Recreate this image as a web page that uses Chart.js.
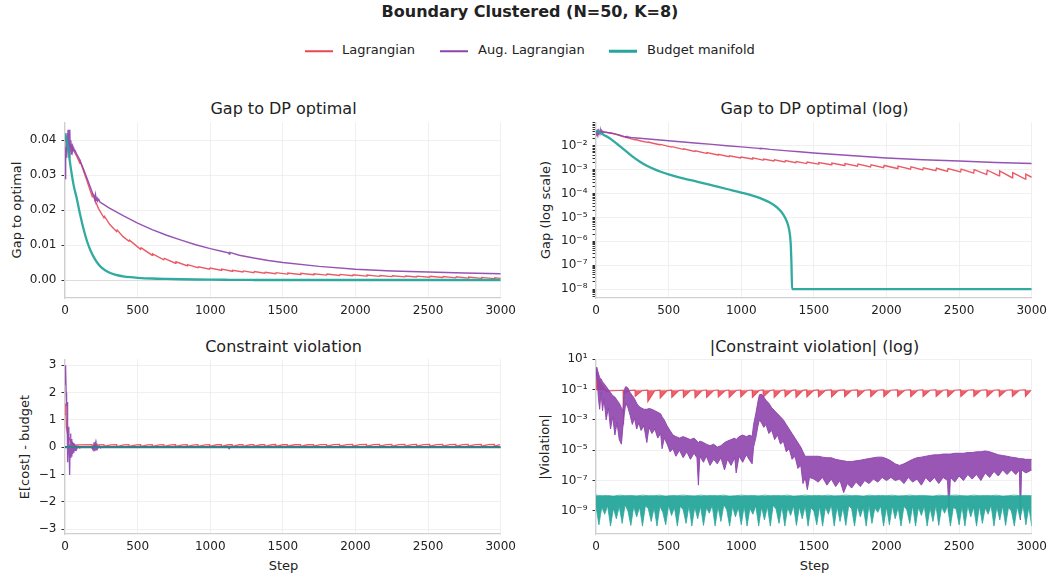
<!DOCTYPE html>
<html>
<head>
<meta charset="utf-8">
<script src="https://cdn.jsdelivr.net/npm/chart.js@4.4.1/dist/chart.umd.min.js"></script>
<style>
  body { margin: 0; background: #fff; font-family: 'DejaVu Sans', sans-serif; color: #222; }
  #fig { position: relative; width: 1052px; height: 577px; overflow: hidden; background: #fff; }
  .txt { position: absolute; white-space: nowrap; transform: translate(-50%, -50%); line-height: 1.2; }
  .rot { transform: translate(-50%, -50%) rotate(-90deg); }
  .leg { position: absolute; white-space: nowrap; transform: translateY(-50%); font-size: 13px; line-height: 1.2; }
  .sw { position: absolute; width: 28px; transform: translateY(-50%); }
  canvas { position: absolute; }
</style>
</head>
<body>
<div id="fig">
  <div class="txt" style="left:530px; top:12px; font-size:16px; font-weight:bold;">Boundary Clustered (N=50, K=8)</div>

  <div class="sw" style="left:305px; top:51px; height:1.5px; background:rgb(232,72,85);"></div>
  <div class="leg" style="left:342px; top:50px;">Lagrangian</div>
  <div class="sw" style="left:440px; top:51px; height:1.5px; background:rgb(142,68,173);"></div>
  <div class="leg" style="left:478px; top:50px;">Aug. Lagrangian</div>
  <div class="sw" style="left:609px; top:51px; height:2.5px; background:rgb(38,166,154);"></div>
  <div class="leg" style="left:647px; top:50px;">Budget manifold</div>

  <div class="txt" style="left:283.5px; top:109px; font-size:16px;">Gap to DP optimal</div>
  <div class="txt" style="left:814.5px; top:109px; font-size:16px;">Gap to DP optimal (log)</div>
  <div class="txt" style="left:283.5px; top:346.5px; font-size:16px;">Constraint violation</div>
  <div class="txt" style="left:814.5px; top:346.5px; font-size:16px;">|Constraint violation| (log)</div>

  <div class="txt rot" style="left:16.5px; top:210px; font-size:13px;">Gap to optimal</div>
  <div class="txt rot" style="left:546px; top:210px; font-size:13px;">Gap (log scale)</div>
  <div class="txt rot" style="left:25px; top:447px; font-size:13px;">E[cost] - budget</div>
  <div class="txt rot" style="left:545px; top:447px; font-size:13px;">|Violation|</div>

  <div class="txt" style="left:283.5px; top:566px; font-size:13px;">Step</div>
  <div class="txt" style="left:814.5px; top:566px; font-size:13px;">Step</div>

  <canvas id="gapLin" width="522" height="212" style="left:0px; top:110px;"></canvas>
  <canvas id="gapLog" width="522" height="212" style="left:531px; top:110px;"></canvas>
  <canvas id="violLin" width="522" height="211" style="left:0px; top:347px;"></canvas>
  <canvas id="violLog" width="522" height="211" style="left:531px; top:347px;"></canvas>
</div>
<script>
// x axis ticks (steps)
const stepTicks = [0, 500, 1000, 1500, 2000, 2500, 3000];

// y tick values and labels
const gapLinTicks = [0, 0.01, 0.02, 0.03, 0.04];
const gapLinLabels = ['0.00', '0.01', '0.02', '0.03', '0.04'];
const gapLogTicks = [1e-8, 1e-7, 1e-6, 1e-5, 1e-4, 1e-3, 1e-2];
const gapLogLabels = ['10⁻⁸', '10⁻⁷', '10⁻⁶', '10⁻⁵', '10⁻⁴', '10⁻³', '10⁻²'];
const minorMult = [2, 3, 4, 5, 6, 7, 8, 9];
const violLinTicks = [-3, -2, -1, 0, 1, 2, 3];
const violLinLabels = ['−3', '−2', '−1', '0', '1', '2', '3'];
const violLogTicks = [1e-9, 1e-7, 1e-5, 1e-3, 1e-1, 10];
const violLogLabels = ['10⁻⁹', '10⁻⁷', '10⁻⁵', '10⁻³', '10⁻¹', '10¹'];

// Gap to DP optimal - Lagrangian (sawtooth after each re-solve)
const gapLagSteps = [0, 20, 40, 60, 80, 100, 104, 150, 188, 192, 230, 268, 272, 310, 355, 359, 400, 440, 444,
  520, 524, 600, 604, 680, 684, 760, 764, 840, 844, 915, 919, 995, 999, 1075, 1079, 1150, 1154,
  1225, 1229, 1300, 1304, 1375, 1379, 1450, 1454, 1530, 1534, 1620, 1624, 1710, 1714, 1800, 1804,
  1890, 1894, 1980, 1984, 2075, 2079, 2165, 2169, 2250, 2254, 2340, 2344, 2420, 2424, 2510, 2514,
  2600, 2604, 2690, 2694, 2775, 2779, 2865, 2869, 2955, 2959, 3000];
const gapLag = [0.040, 0.0393, 0.0383, 0.037, 0.0355, 0.0336, 0.034, 0.0285, 0.0238, 0.0243, 0.0205, 0.0178, 0.0182, 0.0158, 0.0139, 0.0143, 0.0124, 0.0111, 0.0114,
  0.0088, 0.0092, 0.0071, 0.0075, 0.0058, 0.0062, 0.0048, 0.0052, 0.0041, 0.0044, 0.0035, 0.0038, 0.0031, 0.0034, 0.0028, 0.0031, 0.0025, 0.0028,
  0.0023, 0.0026, 0.0021, 0.0024, 0.00195, 0.0022, 0.0018, 0.0021, 0.0017, 0.002, 0.0016, 0.0019, 0.0015, 0.0018, 0.0014, 0.0017,
  0.0013, 0.0016, 0.00122, 0.0015, 0.00112, 0.0014, 0.00104, 0.0013, 0.00097, 0.0012, 0.0009, 0.00115, 0.00085, 0.0011, 0.0008, 0.00105,
  0.00072, 0.001, 0.00062, 0.00095, 0.00055, 0.00088, 0.00046, 0.00075, 0.0004, 0.00065, 0.00048];

// Gap - Aug. Lagrangian
const gapAugSteps = [0, 3, 6, 9, 12, 15, 18, 21, 24, 27, 30, 33, 36, 40, 44, 48, 52, 56, 60, 70,
  80, 100, 130, 160, 190, 200, 205, 210, 215, 220, 225, 232, 240, 260, 300, 400, 500, 600, 700, 800,
  900, 1000, 1100, 1125, 1130, 1135, 1200, 1300, 1400, 1500, 1750, 2000, 2250, 2500, 2750, 3000];
const gapAug = [0.029, 0.038, 0.034, 0.041, 0.035, 0.042, 0.037, 0.043, 0.036, 0.041, 0.035, 0.043, 0.037, 0.040, 0.036, 0.039, 0.037, 0.038, 0.0375, 0.037,
  0.036, 0.0345, 0.0315, 0.0282, 0.0248, 0.0242, 0.0232, 0.0244, 0.0228, 0.0238, 0.0226, 0.0231, 0.0223, 0.0218, 0.0207, 0.0184, 0.0163, 0.0144, 0.0128, 0.0114,
  0.0101, 0.009, 0.008, 0.0078, 0.0074, 0.0079, 0.0071, 0.0063, 0.0056, 0.005, 0.0039, 0.0031, 0.0026, 0.0023, 0.002, 0.0018];

// Gap - Budget manifold
const gapBudSteps = [0, 20, 40, 60, 80, 100, 125, 150, 175, 200, 225, 250, 300, 350, 400, 450, 500, 600, 700, 800,
  900, 1000, 1100, 1150, 1200, 1250, 1290, 1315, 1330, 1340, 1346, 1350, 3000];
const gapBud = [0.042, 0.038, 0.032, 0.027, 0.0235, 0.0195, 0.015, 0.0113, 0.0085, 0.0064, 0.0048, 0.0036, 0.0022, 0.00145, 0.00105, 0.0008, 0.00064, 0.00043, 0.00031, 0.00022,
  0.000155, 0.00011, 0.000074, 0.000057, 0.000041, 0.000025, 0.000013, 0.0000065, 0.000003, 0.0000009, 0.0000001, 1e-8, 1e-8];

// Constraint violation - Lagrangian (E[cost] - budget, positive)
const violLagSteps = [0, 5, 10, 15, 25, 40, 55, 70, 85,
  186, 188, 192, 230,
  268, 270, 318,   355, 357, 405,   440, 442, 490,   520, 522, 570,   600, 602, 650,
  680, 682, 730,   760, 762, 810,   840, 842, 890,   915, 917, 965,   995, 997, 1045,
  1075, 1077, 1125, 1150, 1152, 1200, 1225, 1227, 1275, 1300, 1302, 1350, 1375, 1377, 1425,
  1450, 1452, 1500, 1530, 1532, 1580, 1620, 1622, 1670, 1710, 1712, 1760, 1800, 1802, 1850,
  1890, 1892, 1940, 1980, 1982, 2030, 2075, 2077, 2125, 2165, 2167, 2215, 2250, 2252, 2300,
  2340, 2342, 2390, 2420, 2422, 2470, 2510, 2512, 2560, 2600, 2602, 2650, 2690, 2692, 2740,
  2775, 2777, 2825, 2865, 2867, 2915, 2955, 2957, 2995,
  3000];
const violLag = [1.2, 1.6, 0.7, 0.55, 0.35, 0.2, 0.12, 0.075, 0.08,
  0.09, 0.0005, 0.05, 0.085,
  0.092, 0.035, 0.085,   0.092, 0.016, 0.084,   0.092, 0.027, 0.085,   0.092, 0.03, 0.085,   0.093, 0.03, 0.086,
  0.093, 0.028, 0.086,   0.093, 0.03, 0.086,    0.093, 0.032, 0.086,   0.093, 0.03, 0.086,   0.093, 0.032, 0.087,
  0.093, 0.03, 0.087,    0.094, 0.032, 0.087,   0.094, 0.03, 0.087,    0.094, 0.033, 0.088,  0.094, 0.03, 0.088,
  0.095, 0.032, 0.088,   0.095, 0.033, 0.088,   0.095, 0.032, 0.088,   0.095, 0.034, 0.089,  0.095, 0.033, 0.089,
  0.096, 0.034, 0.089,   0.096, 0.034, 0.089,   0.096, 0.035, 0.089,   0.096, 0.034, 0.09,   0.096, 0.035, 0.09,
  0.096, 0.035, 0.09,    0.096, 0.034, 0.09,    0.096, 0.035, 0.09,    0.096, 0.035, 0.09,   0.096, 0.034, 0.09,
  0.096, 0.035, 0.09,    0.096, 0.035, 0.09,    0.096, 0.035, 0.09,
  0.09];

// Constraint violation - Aug. Lagrangian (signed, linear panel)
const violAugSteps = [0, 3, 5, 8, 11, 14, 17, 19, 22, 26, 29, 32, 35, 38, 41, 44, 47, 50, 53, 57,
  61, 65, 70, 75, 80, 90, 100, 120, 180, 195, 200, 205, 210, 215, 220, 225, 235, 245, 260, 280,
  1120, 1130, 1140, 1150, 3000];
const violAug = [2.3, 2.6, 3.0, 2.0, 1.5, 1.65, 0.3, -0.55, 0.2, 0.75, -0.3, -1.02, 0.1, 0.5, -0.4, 0.3, -0.35, 0.2, -0.25, 0.15,
  -0.2, 0.1, -0.12, 0.07, -0.08, 0.04, -0.03, 0.01, 0, -0.1, 0.18, -0.15, 0.12, -0.1, 0.08, -0.05, 0.05, -0.03, 0.02, 0,
  0, -0.06, 0.02, 0, 0];

// Constraint violation - Budget manifold (signed, linear panel)
const violBudSteps = [0, 3000];
const violBud = [0, 0];

// |violation| - Aug. Lagrangian band (upper / lower envelope of the oscillation)
const absAugSteps = [0, 5, 10, 16, 25, 35, 45, 55, 70, 85,
  100, 115, 130, 145, 160, 175, 185, 195, 205, 220,
  235, 250, 265, 280, 295, 310, 330, 350, 365, 385,
  405, 425, 445, 455, 470, 490, 510, 530, 550, 575,
  600, 625, 650, 675, 695, 705, 715, 740, 760, 785,
  810, 835, 860, 885, 905, 930, 955, 965, 985, 1010,
  1035, 1060, 1075, 1085, 1100, 1115, 1125, 1140, 1155, 1170,
  1190, 1210, 1230, 1250, 1270, 1290, 1310, 1330, 1350, 1370,
  1390, 1410, 1425, 1440, 1455, 1470, 1500, 1530, 1560, 1590,
  1620, 1650, 1680, 1705, 1730, 1760, 1790, 1820, 1850, 1880,
  1910, 1940, 1970, 2000, 2030, 2060, 2090, 2120, 2150, 2180,
  2210, 2240, 2270, 2300, 2330, 2360, 2390, 2420, 2430, 2440,
  2470, 2500, 2530, 2560, 2590, 2620, 2650, 2680, 2710, 2740,
  2770, 2800, 2830, 2860, 2890, 2915, 2922, 2930, 2960, 3000];
const absAugHigh = [2.0, 3.0, 2.0, 1.26, 0.63, 0.5, 0.32, 0.25, 0.16, 0.1,
  0.063, 0.04, 0.032, 0.02, 0.0126, 0.0063, 0.004, 0.1, 0.158, 0.126,
  0.063, 0.04, 0.025, 0.0126, 0.0079, 0.0063, 0.005, 0.005, 0.0056, 0.005,
  0.004, 0.0032, 0.0025, 0.0016, 1e-3, 4e-4, 2e-4, 1e-4, 7.9e-5, 6.3e-5,
  7.9e-5, 6.3e-5, 5e-5, 6.3e-5, 4e-5, 3.2e-5, 4e-5, 3.2e-5, 2.5e-5, 2e-5,
  2.5e-5, 1.6e-5, 2e-5, 3.2e-5, 4e-5, 5e-5, 6.3e-5, 5e-5, 7.9e-5, 1e-4,
  7.9e-5, 1e-4, 7.9e-5, 5e-4, 2.5e-3, 0.016, 0.045, 0.05, 0.032, 0.02,
  0.0126, 0.0063, 0.004, 0.0025, 0.0016, 1e-3, 5e-4, 2.5e-4, 1.26e-4, 6.3e-5,
  3.2e-5, 1.6e-5, 7.9e-6, 4e-6, 4e-6, 4e-6, 4e-6, 4e-6, 3.5e-6, 3.2e-6,
  3.2e-6, 2.5e-6, 2.2e-6, 2e-6, 1.8e-6, 1.8e-6, 2e-6, 2.2e-6, 2.5e-6, 2.8e-6,
  3.2e-6, 3.5e-6, 3.5e-6, 2.8e-6, 2e-6, 1.26e-6, 1e-6, 1.26e-6, 1.8e-6, 2.5e-6,
  3.2e-6, 3.5e-6, 4e-6, 4.5e-6, 5e-6, 5e-6, 5.6e-6, 5.6e-6, 5.6e-6, 5.6e-6,
  6.3e-6, 6.3e-6, 6.3e-6, 7e-6, 7e-6, 7.9e-6, 7.9e-6, 8.9e-6, 7.9e-6, 6.3e-6,
  5e-6, 4.5e-6, 4e-6, 3.5e-6, 3.2e-6, 2.8e-6, 2.8e-6, 2.8e-6, 2.5e-6, 2.5e-6];
const absAugLow = [1.6, 0.79, 0.25, 0.032, 0.005, 0.063, 0.004, 0.025, 0.001, 0.0063,
  2.5e-4, 1.6e-3, 1e-4, 6.3e-4, 5e-5, 2.5e-5, 3.2e-4, 2.5e-3, 0.0126, 0.0063,
  2e-3, 5e-4, 1.26e-3, 2.5e-4, 6.3e-4, 2e-4, 4e-4, 3.2e-5, 3.2e-4, 1.26e-4,
  2.5e-4, 6.3e-5, 1.26e-4, 1.26e-5, 6.3e-5, 2.5e-5, 7.9e-6, 1.26e-5, 4e-6, 1e-5,
  3.2e-6, 7.9e-6, 2.5e-6, 6.3e-6, 3.2e-6, 5e-8, 4e-6, 1.6e-6, 4e-6, 1e-6,
  2.5e-6, 1.26e-6, 3.2e-6, 5e-7, 2.5e-6, 1e-6, 3.2e-6, 3.2e-7, 4e-6, 1.6e-6,
  5e-6, 2e-6, 1.26e-6, 1.6e-5, 6.3e-5, 4e-4, 1e-3, 6.3e-4, 3.2e-4, 5e-4,
  1.26e-4, 2e-4, 5e-5, 1e-4, 2.5e-5, 4e-5, 7.9e-6, 1.26e-5, 2.5e-6, 4e-6,
  6.3e-7, 1e-6, 6.3e-8, 1.6e-7, 2.5e-8, 1.6e-7, 1.26e-7, 7.9e-8, 1.6e-7, 5e-8,
  1.26e-7, 4e-8, 1e-7, 1.6e-8, 6.3e-8, 3.2e-8, 7.9e-8, 4e-8, 1e-7, 6.3e-8,
  1.26e-7, 7.9e-8, 1.6e-7, 1e-7, 1.6e-7, 1e-7, 1.26e-7, 6.3e-8, 1.6e-7, 7.9e-8,
  1.26e-7, 5e-8, 1.6e-7, 7.9e-8, 1.6e-7, 6.3e-8, 1.6e-7, 1e-7, 7.9e-10, 1.6e-7,
  7.9e-8, 2e-7, 1e-7, 2.5e-7, 1.26e-7, 2.5e-7, 1e-7, 3.2e-7, 1.6e-7, 4e-7,
  2e-7, 5e-7, 2.5e-7, 5e-7, 2.5e-7, 5e-7, 2.5e-10, 5e-7, 3.2e-7, 5e-7];

// |violation| - Budget manifold: top edge of the noise floor
const absBudTopSteps = [0, 40, 80, 120, 160, 200, 240, 280, 320, 360,
  400, 440, 480, 520, 560, 600, 640, 680, 720, 760,
  800, 840, 880, 920, 960, 1000, 1040, 1080, 1120, 1160,
  1200, 1240, 1280, 1320, 1360, 1400, 1440, 1480, 1520, 1560,
  1600, 1640, 1680, 1720, 1760, 1800, 1840, 1880, 1920, 1960,
  2000, 2040, 2080, 2120, 2160, 2200, 2240, 2280, 2320, 2360,
  2400, 2440, 2480, 2520, 2560, 2600, 2640, 2680, 2720, 2760,
  2800, 2840, 2880, 2920, 2960, 3000];
const absBudTop = [1.1e-8, 1e-8, 1.05e-8, 9e-9, 1.1e-8, 1e-8, 1.05e-8, 9.5e-9, 1.1e-8, 1e-8,
  1e-8, 1.1e-8, 9e-9, 1.05e-8, 1e-8, 1.1e-8, 1e-8, 9.5e-9, 1.1e-8, 1e-8,
  1.05e-8, 1e-8, 1.1e-8, 9e-9, 1e-8, 1.1e-8, 1e-8, 1.05e-8, 9.5e-9, 1.1e-8,
  1e-8, 1.05e-8, 1e-8, 1.1e-8, 9e-9, 1e-8, 1.1e-8, 1e-8, 1.05e-8, 1e-8,
  1.1e-8, 9.5e-9, 1e-8, 1.1e-8, 1e-8, 1.05e-8, 9e-9, 1.1e-8, 1e-8, 1.05e-8,
  1e-8, 1.1e-8, 9.5e-9, 1e-8, 1.1e-8, 1e-8, 1.05e-8, 1e-8, 9e-9, 1.1e-8,
  1e-8, 1.05e-8, 1.1e-8, 1e-8, 9.5e-9, 1.1e-8, 1e-8, 1.05e-8, 1e-8, 1.1e-8,
  9e-9, 1e-8, 1.1e-8, 1e-8, 1.05e-8, 1e-8];

// |violation| - Budget manifold: spiky lower edge
const absBudLowSteps = [0, 20, 40, 60, 80, 100, 120, 140, 160, 180,
  200, 220, 240, 260, 280, 300, 320, 340, 360, 380,
  400, 420, 440, 460, 480, 500, 520, 540, 560, 580,
  600, 620, 640, 660, 680, 700, 720, 740, 760, 780,
  800, 820, 840, 860, 880, 900, 920, 940, 960, 980,
  1000, 1020, 1040, 1060, 1080, 1100, 1120, 1140, 1160, 1180,
  1200, 1220, 1240, 1260, 1280, 1300, 1320, 1340, 1360, 1380,
  1400, 1420, 1440, 1460, 1480, 1500, 1520, 1540, 1560, 1580,
  1600, 1620, 1640, 1660, 1680, 1700, 1720, 1740, 1760, 1780,
  1800, 1820, 1840, 1860, 1880, 1900, 1920, 1940, 1960, 1980,
  2000, 2020, 2040, 2060, 2080, 2100, 2120, 2140, 2160, 2180,
  2200, 2220, 2240, 2260, 2280, 2300, 2320, 2340, 2360, 2380,
  2400, 2420, 2440, 2460, 2480, 2500, 2520, 2540, 2560, 2580,
  2600, 2620, 2640, 2660, 2680, 2700, 2720, 2740, 2760, 2780,
  2800, 2820, 2840, 2860, 2880, 2900, 2920, 2940, 2960, 2980,
  3000];
const absBudLow = [2e-9, 1.2e-10, 1.8e-9, 6e-10, 2.2e-9, 1e-10, 1.5e-9, 3e-10, 2e-9, 1.5e-10,
  2.5e-9, 1e-9, 1.1e-10, 2e-9, 4e-10, 1.8e-9, 1e-10, 2.2e-9, 1.4e-9, 2e-10,
  1.6e-9, 1e-10, 2e-9, 8e-10, 1.2e-10, 2.4e-9, 5e-10, 1.7e-9, 1e-10, 2e-9,
  1.2e-9, 1.5e-10, 2.2e-9, 1e-10, 1.8e-9, 3e-10, 2e-9, 1.1e-10, 1.6e-9, 7e-10,
  2.3e-9, 1e-10, 1.9e-9, 2e-10, 2.5e-9, 1.2e-9, 1e-10, 2e-9, 4e-10, 1.7e-9,
  1.2e-10, 2.1e-9, 1e-10, 1.5e-9, 6e-10, 2.2e-9, 1e-10, 1.8e-9, 2.5e-10, 2e-9,
  1e-10, 2.4e-9, 1.3e-9, 1.5e-10, 2e-9, 1e-10, 1.7e-9, 5e-10, 2.2e-9, 1.1e-10,
  1.9e-9, 3e-10, 2.3e-9, 1e-10, 1.6e-9, 1e-9, 1.2e-10, 2.1e-9, 1e-10, 1.8e-9,
  6e-10, 2.5e-9, 1e-10, 2e-9, 2e-10, 1.7e-9, 1.1e-10, 2.2e-9, 1.4e-9, 1e-10,
  2e-9, 4e-10, 1.8e-9, 1e-10, 2.4e-9, 1.5e-10, 1.6e-9, 8e-10, 2.1e-9, 1e-10,
  1.9e-9, 1.2e-10, 2.2e-9, 3e-10, 1.7e-9, 1e-10, 2e-9, 1.2e-9, 1.5e-10, 2.3e-9,
  1e-10, 1.8e-9, 5e-10, 2.1e-9, 1e-10, 1.6e-9, 2e-10, 2.4e-9, 1.1e-10, 1.9e-9,
  7e-10, 2.2e-9, 1e-10, 1.7e-9, 1.3e-9, 1.2e-10, 2e-9, 1e-10, 2.3e-9, 4e-10,
  1.8e-9, 1e-10, 2.1e-9, 1.5e-10, 1.6e-9, 6e-10, 2.4e-9, 1e-10, 1.9e-9, 2.5e-10,
  2.2e-9, 1.1e-10, 1.7e-9, 1e-9, 1e-10, 2e-9, 3e-10, 2.3e-9, 1.2e-10, 1.8e-9,
  1e-10];

const RED = 'rgba(232, 72, 85, 0.9)';
const PURPLE = 'rgba(142, 68, 173, 0.92)';
const TEAL = 'rgba(38, 166, 154, 0.95)';
const TEAL_ZERO = 'rgb(56, 126, 136)';

Chart.defaults.font.family = "'DejaVu Sans', sans-serif";
Chart.defaults.font.size = 12;
Chart.defaults.color = '#222';

function pts(steps, vals) {
  return steps.map((s, i) => ({ x: s, y: vals[i] }));
}

function line(data, color, width, order, extra) {
  return Object.assign({
    data: data, borderColor: color, backgroundColor: color, borderWidth: width,
    pointRadius: 0, fill: false, order: order
  }, extra || {});
}

function xAxis() {
  return {
    type: 'linear', min: 0, max: 3000, bounds: 'data',
    afterBuildTicks: s => { s.ticks = stepTicks.map(v => ({ value: v })); },
    afterFit: s => { s.height = 24; },
    ticks: { autoSkip: false, maxRotation: 0, padding: 6, callback: v => String(v) },
    grid: { color: '#ececec', lineWidth: 0.8, drawTicks: false },
    border: { color: '#cfcfcf', width: 1.2 }
  };
}

function yAxis(type, min, max, tickList, values, labels, gridColor) {
  return {
    type: type, min: min, max: max, bounds: 'data',
    afterBuildTicks: s => { s.ticks = tickList.map(t => ({ value: t.v, major: t.major })); },
    afterFit: s => { s.width = 65; },
    ticks: {
      autoSkip: false, padding: 5,
      callback: v => { const i = values.indexOf(v); return i >= 0 ? labels[i] : ''; }
    },
    grid: { color: gridColor, lineWidth: 0.8, drawTicks: true, tickLength: 3.5, tickColor: '#333', tickWidth: 1 },
    border: { color: '#cfcfcf', width: 1.2 }
  };
}

function baseOptions(y) {
  return {
    responsive: false, animation: false, events: [],
    layout: { padding: { top: 12, right: 20, bottom: 0, left: 0 } },
    plugins: { legend: { display: false }, tooltip: { enabled: false } },
    elements: { point: { radius: 0 } },
    scales: { x: xAxis(), y: y }
  };
}

const majorOnly = ctx => (ctx.tick && ctx.tick.major ? '#ececec' : 'rgba(0,0,0,0)');

// Gap linear
new Chart(document.getElementById('gapLin'), {
  type: 'line',
  data: { datasets: [
    line(pts(gapBudSteps, gapBud), TEAL, 2.3, 0, { cubicInterpolationMode: 'monotone' }),
    line(pts(gapAugSteps, gapAug), PURPLE, 1.4, 1),
    line(pts(gapLagSteps, gapLag), RED, 1.4, 2)
  ] },
  options: baseOptions(yAxis('linear', -0.005143, 0.045143,
    gapLinTicks.map(v => ({ v: v, major: true })), gapLinTicks, gapLinLabels,
    ctx => (ctx.tick && ctx.tick.value === 0 ? '#d4d4d4' : '#ececec')))
});

// Gap log: decades plus minor ticks
const gapLogMin = 4.22e-9, gapLogMax = 0.0972;
const gapLogTickList = [];
[1e-9].concat(gapLogTicks).forEach(d => {
  if (d >= gapLogMin) gapLogTickList.push({ v: d, major: true });
  minorMult.forEach(m => {
    const v = m * d;
    if (v >= gapLogMin && v <= gapLogMax) gapLogTickList.push({ v: v, major: false });
  });
});
gapLogTickList.sort((a, b) => a.v - b.v);

new Chart(document.getElementById('gapLog'), {
  type: 'line',
  data: { datasets: [
    line(pts(gapBudSteps, gapBud), TEAL, 2.3, 0, { cubicInterpolationMode: 'monotone' }),
    line(pts(gapAugSteps, gapAug), PURPLE, 1.4, 1),
    line(pts(gapLagSteps, gapLag), RED, 1.4, 2)
  ] },
  options: baseOptions(yAxis('logarithmic', gapLogMin, gapLogMax,
    gapLogTickList, gapLogTicks, gapLogLabels, majorOnly))
});

// Constraint violation linear
new Chart(document.getElementById('violLin'), {
  type: 'line',
  data: { datasets: [
    line(pts(violBudSteps, violBud), TEAL_ZERO, 2.4, 0),
    line(pts(violAugSteps, violAug), PURPLE, 1.3, 1),
    line(pts(violLagSteps, violLag), RED, 1.3, 2)
  ] },
  options: baseOptions(yAxis('linear', -3.18, 3.22,
    violLinTicks.map(v => ({ v: v, major: true })), violLinTicks, violLinLabels,
    () => '#ececec'))
});

// |Constraint violation| log
new Chart(document.getElementById('violLog'), {
  type: 'line',
  data: { datasets: [
    line(pts(absBudTopSteps, absBudTop), TEAL, 0.8, 0),
    line(pts(absBudLowSteps, absBudLow), TEAL, 0.8, 1, { fill: { value: 1e-8 } }),
    line(pts(absAugSteps, absAugHigh), PURPLE, 1, 2),
    line(pts(absAugSteps, absAugLow), PURPLE, 1, 3, { fill: '-1', backgroundColor: 'rgba(142, 68, 173, 0.9)' }),
    line(pts(violLagSteps, violLag), RED, 1.1, 4, { fill: { value: 0.09 }, backgroundColor: 'rgba(232, 72, 85, 0.85)' })
  ] },
  options: baseOptions(yAxis('logarithmic', 3.0e-11, 10,
    violLogTicks.map(v => ({ v: v, major: true })), violLogTicks, violLogLabels, majorOnly))
});
</script>
</body>
</html>
